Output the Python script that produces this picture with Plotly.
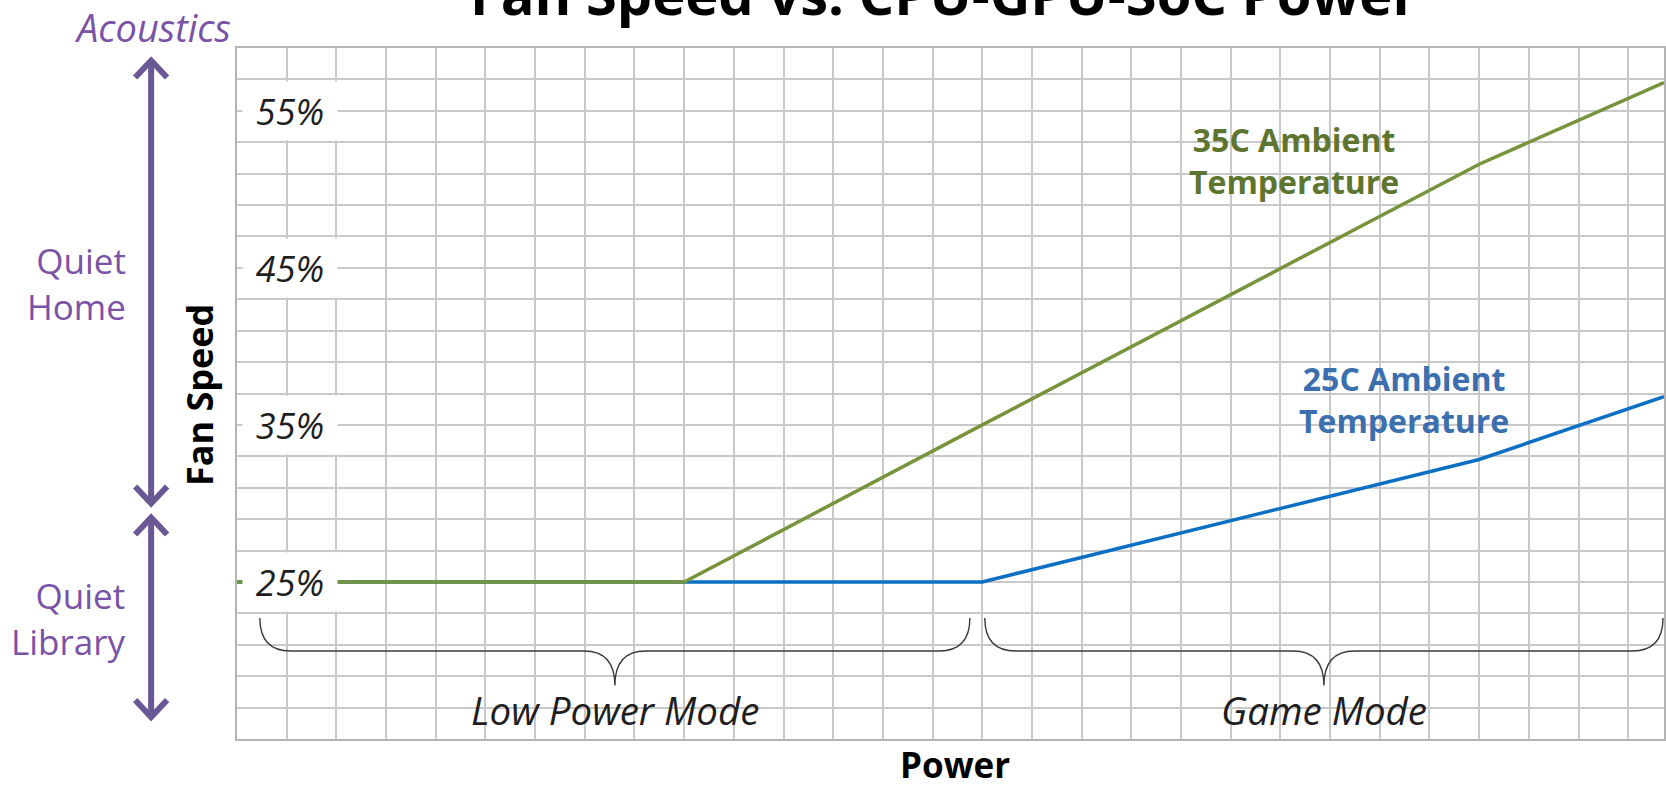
import plotly.graph_objects as go

# ---------------- data (x in grid columns of power, y in % fan speed) -------------
power = [0, 9, 15, 25, 28.72]
fan_35c = [25, 25, 35.0, 51.6, 56.8]
fan_25c = [25, 25, 25, 32.8, 36.8]

y_ticks = [25, 35, 45, 55]
y_tick_labels = ["25%", "35%", "45%", "55%"]

modes = ["Low Power Mode", "Game Mode"]
mode_spans = [(0.46, 14.75), (15.05, 28.7)]

zones = ["Quiet<br>Home", "Quiet<br>Library"]
zone_spans = [(30.0, 58.2), (16.4, 29.1)]

X_RANGE = [0, 28.72]
Y_RANGE = [15, 59]

W, H = 1666, 788
ML, MR, MT, MB = 237, 0, 48, 49
PW, PH = W - ML - MR, H - MT - MB

GREEN = "#77933C"
BLUE = "#0B6FC4"
PURPLE_T = "#7A52A6"
PURPLE_A = "#6A5894"
FONT = "Open Sans"


def px_x(px):
    return (px - ML) / PW


def px_y(py):
    return (H - MB - py) / PH


def val_to_paper_y(v):
    return (v - Y_RANGE[0]) / (Y_RANGE[1] - Y_RANGE[0])


fig = go.Figure()
fig.add_trace(go.Scatter(x=power, y=fan_25c, mode="lines",
                         line=dict(color=BLUE, width=3.5), hoverinfo="skip"))
fig.add_trace(go.Scatter(x=power, y=fan_35c, mode="lines",
                         line=dict(color=GREEN, width=3.5), hoverinfo="skip"))

shapes = []
# darker major horizontal grid lines
for v in y_ticks:
    shapes.append(dict(type="line", xref="x", yref="y", x0=X_RANGE[0], x1=X_RANGE[1],
                       y0=v, y1=v, line=dict(color="#9c9c9c", width=1.6), layer="below"))

# braces
y_tip, y_bar, y_cusp, r = 22.7, 20.6, 18.4, 0.62
for (x0, x1) in mode_spans:
    xm = (x0 + x1) / 2
    p = (f"M{x0},{y_tip} Q{x0},{y_bar} {x0 + r},{y_bar} L{xm - r},{y_bar} "
         f"Q{xm},{y_bar} {xm},{y_cusp} Q{xm},{y_bar} {xm + r},{y_bar} "
         f"L{x1 - r},{y_bar} Q{x1},{y_bar} {x1},{y_tip}")
    shapes.append(dict(type="path", xref="x", yref="y", path=p,
                       line=dict(color="#3a3a3a", width=1.4)))

# acoustic arrows (double headed, open chevrons)
ax = px_x(151)
hw = 16 / PW
hh = 17 / PH
for (lo, hi) in zone_spans:
    yt = val_to_paper_y(hi)
    yb = val_to_paper_y(lo)
    shapes.append(dict(type="line", xref="paper", yref="paper", x0=ax, x1=ax,
                       y0=yb, y1=yt, line=dict(color=PURPLE_A, width=6)))
    shapes.append(dict(type="path", xref="paper", yref="paper",
                       path=f"M{ax - hw},{yt - hh} L{ax},{yt} L{ax + hw},{yt - hh}",
                       line=dict(color=PURPLE_A, width=6)))
    shapes.append(dict(type="path", xref="paper", yref="paper",
                       path=f"M{ax - hw},{yb + hh} L{ax},{yb} L{ax + hw},{yb + hh}",
                       line=dict(color=PURPLE_A, width=6)))

annotations = []
C = dict(xanchor="center", yanchor="middle", showarrow=False)
# y tick labels with white boxes
for v, t in zip(y_ticks, y_tick_labels):
    annotations.append(dict(x=1.07, y=v, xref="x", yref="y", text=t,
                            font=dict(family=FONT, size=36, color="#1e1e1e", style="italic"),
                            bgcolor="white", width=92, height=56, **C))

# series labels
annotations.append(dict(x=21.28, y=51.85, xref="x", yref="y",
                        text="<b>35C Ambient<br>Temperature</b>",
                        font=dict(family=FONT, size=32, color="#5E7530"), **C))
annotations.append(dict(x=23.48, y=36.6, xref="x", yref="y",
                        text="<b>25C Ambient<br>Temperature</b>",
                        font=dict(family=FONT, size=32, color="#3B6FAE"), **C))

# mode labels
for name, (x0, x1) in zip(modes, mode_spans):
    annotations.append(dict(x=(x0 + x1) / 2, y=16.85, xref="x", yref="y", text=name,
                            font=dict(family=FONT, size=38.5, color="#1e1e1e", style="italic"),
                            **C))

# acoustics labels
annotations.append(dict(x=px_x(152), y=px_y(27), xref="paper", yref="paper",
                        text="Acoustics",
                        font=dict(family=FONT, size=38, color=PURPLE_T, style="italic"), **C))
zone_label_y = [px_y(283), px_y(618)]
for z, yy in zip(zones, zone_label_y):
    annotations.append(dict(x=px_x(128), y=yy, xref="paper", yref="paper", text=z,
                            showarrow=False, xanchor="right", yanchor="middle", align="right",
                            font=dict(family=FONT, size=35, color=PURPLE_T)))

# axis titles
annotations.append(dict(x=px_x(199), y=px_y(395), xref="paper", yref="paper",
                        text="<b>Fan Speed</b>", textangle=-90,
                        font=dict(family=FONT, size=36, color="black"), **C))
annotations.append(dict(x=px_x(956), y=px_y(764), xref="paper", yref="paper",
                        text="<b>Power</b>",
                        font=dict(family=FONT, size=35, color="black"), **C))

# chart title (cut off at top)
annotations.append(dict(x=px_x(945), y=px_y(-7), xref="paper", yref="paper",
                        text="<b>Fan Speed vs. CPU-GPU-SoC Power</b>",
                        font=dict(family=FONT, size=56, color="black"), **C))

fig.update_layout(
    width=W, height=H,
    margin=dict(l=ML, r=MR, t=MT, b=MB, pad=0),
    paper_bgcolor="white", plot_bgcolor="white",
    showlegend=False,
    shapes=shapes, annotations=annotations,
    xaxis=dict(range=X_RANGE, tick0=0, dtick=1, showticklabels=False, ticks="",
               showgrid=True, gridcolor="#c9c9c9", gridwidth=1.5, zeroline=False,
               showline=True, linecolor="#b4b4b4", linewidth=2, mirror=True,
               fixedrange=True),
    yaxis=dict(range=Y_RANGE, tick0=15, dtick=2, showticklabels=False, ticks="",
               showgrid=True, gridcolor="#c9c9c9", gridwidth=1.5, zeroline=False,
               showline=True, linecolor="#b4b4b4", linewidth=2, mirror=True,
               fixedrange=True),
)

fig.write_html("out.html", config={"displayModeBar": False},
               post_script="document.body.style.margin='0px';"
                           "document.body.style.overflow='hidden';")
